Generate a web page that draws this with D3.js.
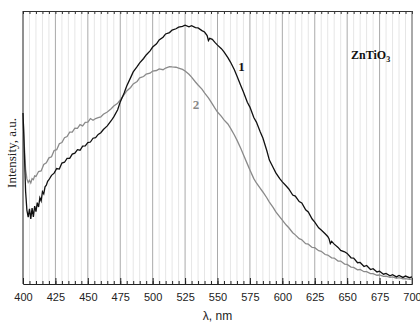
<!DOCTYPE html>
<html>
<head>
<meta charset="utf-8">
<style>
  body { margin: 0; background: #fff; }
  .tick text { font: 11px "Liberation Sans", Arial, sans-serif; fill: #222; }
</style>
</head>
<body>
<svg id="chart"></svg>
<script src="https://d3js.org/d3.v7.min.js"></script>
<script>
// wavelength ticks
const xTicks = [400, 425, 450, 475, 500, 525, 550, 575, 600, 625, 650, 675, 700];

// curve 1 (black)
const wl1 = [400, 401, 402, 403, 404, 405, 406, 407, 408, 409, 410, 411, 412, 413, 414, 415, 416, 417, 418, 419, 420, 422, 424, 426, 428, 430, 432, 434, 436, 438, 440, 442, 444, 446, 448, 450, 452, 454, 456, 458, 460, 462, 465, 468, 470, 473, 475, 478, 480, 483, 485, 488, 490, 493, 495, 498, 500, 503, 505, 508, 510, 513, 515, 518, 520, 523, 525, 528, 530, 533, 535, 538, 540, 542, 543, 544, 546, 548, 550, 553, 555, 558, 560, 563, 565, 568, 570, 573, 575, 578, 580, 583, 585, 588, 590, 593, 595, 598, 600, 603, 605, 608, 610, 613, 615, 618, 620, 623, 625, 628, 630, 633, 635, 636, 637, 638, 640, 643, 645, 648, 650, 653, 655, 658, 660, 663, 665, 668, 670, 673, 675, 678, 680, 683, 685, 688, 690, 693, 695, 698, 700];
const int1 = [62.6, 49, 34, 27, 24.5, 27.5, 23.8, 27.8, 24.6, 28.5, 26.5, 29.8, 28.2, 31.6, 30.4, 33.8, 33, 35.6, 36.2, 37.6, 38.2, 39.8, 40.6, 42.3, 42.1, 44.3, 44.6, 46, 46, 47.6, 47.9, 49.2, 49, 50.5, 50.6, 51.8, 52, 53.4, 53.6, 54.8, 55.4, 56.6, 57.9, 59.8, 61.2, 63.8, 66.7, 70, 72.5, 75.6, 77.7, 79.6, 81, 82.6, 83.9, 85.4, 86.8, 88, 89.4, 90.4, 91.6, 92.1, 93, 93.5, 94.1, 94.4, 94.8, 94.2, 94.6, 93.9, 93.8, 92.8, 92.3, 91, 89.2, 90, 89.6, 88.5, 87.5, 86.2, 85, 82.9, 81.3, 78.5, 76.2, 72.6, 70.3, 66.6, 64.8, 61, 59.3, 55.7, 53.5, 48.9, 45.4, 42.6, 40.7, 38.6, 37.4, 35.9, 34.8, 32.6, 32.2, 30.2, 29.7, 27.2, 26.4, 23.8, 22.7, 20.6, 19.8, 18.4, 17.4, 16.6, 14.8, 15.6, 14.6, 13.4, 12.3, 11.8, 11.2, 9.6, 9.5, 7.8, 7.9, 6.4, 6.8, 5.3, 5.6, 4.4, 4.7, 3.6, 3.9, 3, 3.4, 2.6, 3.1, 2.4, 2.9, 2.3, 2.6];

// curve 2 (grey)
const wl2 = [400, 401, 402, 403, 404, 405, 406, 407, 408, 409, 410, 412, 414, 416, 418, 420, 422, 424, 426, 428, 430, 432, 434, 436, 438, 440, 442, 444, 446, 448, 450, 452, 454, 456, 458, 460, 462, 465, 468, 470, 473, 475, 478, 480, 483, 485, 488, 490, 493, 495, 498, 500, 503, 505, 508, 510, 513, 515, 518, 520, 523, 525, 528, 530, 533, 535, 538, 540, 543, 545, 548, 550, 553, 555, 558, 560, 563, 565, 568, 570, 573, 575, 578, 580, 583, 585, 588, 590, 593, 595, 598, 600, 603, 605, 608, 610, 613, 615, 618, 620, 623, 625, 628, 630, 633, 635, 638, 640, 643, 645, 648, 650, 653, 655, 658, 660, 663, 665, 668, 670, 673, 675, 678, 680, 683, 685, 688, 690, 693, 695, 698, 700];
const int2 = [62.6, 50.9, 42, 38.5, 37.2, 38, 37, 38.6, 38.2, 39.6, 39.4, 41.2, 41.4, 43.8, 44.4, 46.2, 46.6, 48.9, 49.2, 51.4, 51.8, 53.6, 54, 55.6, 55.6, 57.1, 57, 58.4, 57.9, 59.2, 59.3, 60.6, 60, 60.6, 60.9, 61.2, 62.2, 63, 64.2, 65.2, 66.2, 67.4, 69.4, 70.7, 72, 73.3, 74.2, 75.5, 76, 76.9, 77.2, 78, 78.2, 78.8, 78.5, 79.1, 79.6, 79.5, 79.4, 79.1, 78.6, 78, 76.8, 75.8, 74, 72.9, 71.4, 70, 68.2, 66.7, 64.4, 63, 61.4, 60.1, 58.6, 57.1, 54.6, 52.7, 49.6, 47.3, 44, 41.8, 38.6, 37, 35, 33.7, 31.6, 30, 28, 26.4, 24.6, 23.4, 21.6, 20.6, 18.8, 18, 16.6, 16.2, 14.8, 14.6, 13.4, 13.3, 12.2, 12, 10.8, 10.6, 9.6, 9.5, 8.4, 8.4, 7.3, 7.2, 6.2, 6.1, 5.2, 5.3, 4.5, 4.5, 3.8, 3.8, 3.2, 3.3, 2.8, 2.9, 2.4, 2.6, 2.1, 2.3, 1.9, 2, 1.7, 1.8];

const W = 420, H = 324;
const margin = { top: 11, right: 8, bottom: 40, left: 23 };

const svg = d3.select("#chart").attr("width", W).attr("height", H);

const x = d3.scaleLinear().domain([400, 700]).range([margin.left, W - margin.right]);
const y = d3.scaleLinear().domain([0, 100]).range([H - margin.bottom, margin.top]);

const minor = d3.range(400, 701, 5);

// grid lines
svg.append("g").selectAll("line").data(minor.filter(v => v % 25 !== 0)).enter()
  .append("line")
  .attr("x1", d => x(d)).attr("x2", d => x(d))
  .attr("y1", y(100)).attr("y2", y(0))
  .attr("stroke", "#e6e6e6").attr("stroke-width", 1);
svg.append("g").selectAll("line").data(xTicks.slice(1, -1)).enter()
  .append("line")
  .attr("x1", d => x(d)).attr("x2", d => x(d))
  .attr("y1", y(100)).attr("y2", y(0))
  .attr("stroke", "#aaa").attr("stroke-width", 1);

// bottom axis
const bottomAxis = svg.append("g")
  .attr("transform", `translate(0,${y(0)})`)
  .call(d3.axisBottom(x).tickValues(xTicks).tickSize(-6).tickPadding(9));
bottomAxis.select(".domain").attr("stroke", "#222");
bottomAxis.selectAll(".tick line").attr("stroke", "#222");
svg.append("g")
  .attr("transform", `translate(0,${y(0)})`)
  .call(d3.axisBottom(x).tickValues(minor).tickSize(-3).tickFormat(""))
  .call(g => g.select(".domain").remove())
  .selectAll(".tick line").attr("stroke", "#222");

// top axis
const topAxis = svg.append("g")
  .attr("transform", `translate(0,${y(100)})`)
  .call(d3.axisTop(x).tickValues(minor).tickSize(-3).tickFormat(""));
topAxis.select(".domain").attr("stroke", "#333");
topAxis.selectAll(".tick line").attr("stroke", "#333");

// left and right borders
svg.append("line").attr("x1", x(400)).attr("x2", x(400)).attr("y1", y(100)).attr("y2", y(0)).attr("stroke", "#222");
svg.append("line").attr("x1", x(700)).attr("x2", x(700)).attr("y1", y(100)).attr("y2", y(0)).attr("stroke", "#555");

const line = d3.line().x(d => x(d[0])).y(d => y(d[1]));

svg.append("path")
  .datum(wl2.map((v, i) => [v, int2[i]]))
  .attr("fill", "none").attr("stroke", "#8a8a8a").attr("stroke-width", 1.3)
  .attr("d", line);
svg.append("path")
  .datum(wl1.map((v, i) => [v, int1[i]]))
  .attr("fill", "none").attr("stroke", "#111").attr("stroke-width", 1.3)
  .attr("d", line);

// curve labels
svg.append("text").attr("x", x(566)).attr("y", y(78))
  .attr("font-family", "Liberation Serif, serif").attr("font-size", 13).attr("font-weight", "bold")
  .attr("fill", "#111").text("1");
svg.append("text").attr("x", x(531)).attr("y", y(64))
  .attr("font-family", "Liberation Serif, serif").attr("font-size", 13).attr("font-weight", "bold")
  .attr("fill", "#888").text("2");

// sample name
const sampleLabel = svg.append("text").attr("x", x(653)).attr("y", y(82.5))
  .attr("font-family", "Liberation Serif, serif").attr("font-size", 12).attr("font-weight", "bold")
  .attr("fill", "#111");
sampleLabel.append("tspan").text("ZnTiO");
sampleLabel.append("tspan").attr("font-size", 8).attr("dy", 3).text("3");

// axis titles
svg.append("text").attr("x", (x(400) + x(700)) / 2).attr("y", 320)
  .attr("text-anchor", "middle")
  .attr("font-family", "Liberation Sans, Arial, sans-serif").attr("font-size", 12)
  .attr("fill", "#222").text("λ, nm");
svg.append("text")
  .attr("transform", `translate(16,${y(48)}) rotate(-90)`)
  .attr("text-anchor", "middle")
  .attr("font-family", "Liberation Serif, serif").attr("font-size", 13)
  .attr("fill", "#222").text("Intensity, a.u.");
</script>
</body>
</html>
